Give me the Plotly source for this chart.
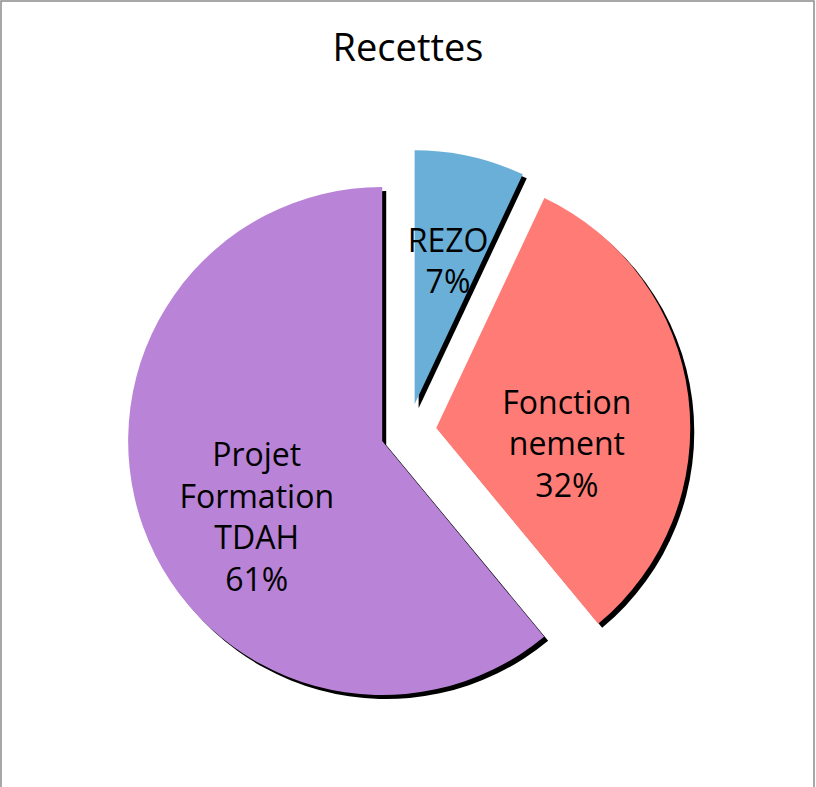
import plotly.graph_objects as go

labels = ["REZO", "Fonction<br>nement", "Projet<br>Formation<br>TDAH"]
values = [7, 32, 61]
colors = ["#6aafd8", "#ff7b76", "#b983d7"]
pulls = [0.11, 0.11, 0.11]
label_pulls = [0.0, 0.11, 0.11]

W, H = 816, 787
cx, cy, half = 408.5, 431.5, 282
shadow_off = (4, 4)
text_off = (-6, 32)

def dom(ox=0, oy=0):
    return dict(
        x=[(cx - half + ox) / W, (cx + half + ox) / W],
        y=[(H - (cy + half + oy)) / H, (H - (cy - half + oy)) / H],
    )

common = dict(labels=labels, values=values, sort=False, direction="clockwise",
              rotation=0, showlegend=False)

fig = go.Figure()
# shadow
fig.add_trace(go.Pie(
    **common, pull=pulls, domain=dom(*shadow_off), textinfo="none", hoverinfo="skip",
    marker=dict(colors=["#000000"] * 3, line=dict(width=0)),
))
# slices
fig.add_trace(go.Pie(
    **common, pull=pulls, domain=dom(), textinfo="none",
    marker=dict(colors=colors, line=dict(width=0)),
))
# data labels
fig.add_trace(go.Pie(
    **common, pull=label_pulls, domain=dom(*text_off), hoverinfo="skip",
    texttemplate="%{label}<br>%{percent:.0%}", textposition="inside",
    insidetextorientation="horizontal",
    textfont=dict(family="Open Sans", size=32, color="#000000"),
    marker=dict(colors=["rgba(0,0,0,0)"] * 3, line=dict(width=0)),
))
fig.update_layout(
    width=W, height=H,
    margin=dict(l=0, r=0, t=0, b=0),
    paper_bgcolor="white",
    title=dict(text="Recettes", x=0.5, xanchor="center", y=1 - 48 / H, yanchor="middle",
               font=dict(family="Open Sans", size=38, color="#000000")),
    uniformtext=dict(minsize=32, mode="show"),
    shapes=[dict(type="rect", xref="paper", yref="paper", x0=1 / W, x1=(W - 2) / W,
                 y0=-0.01, y1=1 - 1 / H, line=dict(color="#8c8c8c", width=1.5))],
)
fig.write_html("out.html", config={"displayModeBar": False},
               post_script="document.body.style.margin='0';")
